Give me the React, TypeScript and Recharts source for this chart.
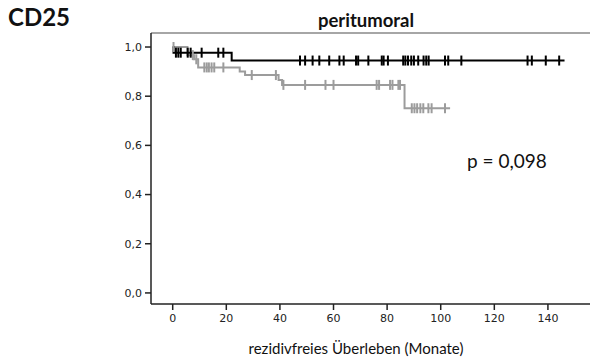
import React from 'react'
import {
  ComposedChart,
  Line,
  Scatter,
  XAxis,
  YAxis,
  ReferenceLine,
} from 'recharts'

// Kaplan-Meier steps (time in months, cumulative survival)
const blackTimes = [0, 0.3, 22, 146.2]
const blackSurv = [1.0, 0.977, 0.945, 0.945]
const blackCensored = [
  1.2, 2.1, 3.0, 5.6, 6.7, 10.8, 17, 18.9, 47.5, 49.4, 52.2, 54.7, 58.4, 62.2, 63.8,
  68.4, 69.2, 73, 78, 78.7, 80.3, 86, 86.8, 87.8, 89, 90, 91.6, 93.6, 94.6, 95.5,
  101.6, 102.8, 107.7, 132.4, 134, 139.2, 144.2,
]

const grayTimes = [0, 5.5, 8.0, 9.5, 25, 27, 39.5, 40.8, 86.5, 103.5]
const graySurv = [1.0, 0.967, 0.95, 0.917, 0.9, 0.886, 0.866, 0.846, 0.751, 0.751]
const grayCensored = [
  0.3, 7.5, 8.8, 11.8, 12.7, 13.5, 14.5, 15.5, 18.9, 29.5, 38.5, 41.3, 49.4, 57, 60,
  76.1, 77, 81.1, 82, 84.2, 84.8, 89.2, 90.2, 91.2, 92.4, 93.5, 95.4, 96.6, 101.6,
]

const xTicks = [0, 20, 40, 60, 80, 100, 120, 140]
const yTicks = [0, 0.2, 0.4, 0.6, 0.8, 1.0]

const X_MIN = -8.1
const X_MAX = 155.7
const Y_MIN = -0.045
const Y_MAX = 1.057

const BLACK = '#000000'
const GRAY = '#9c9c9c'
const AXIS = '#222222'

const toLine = (times: number[], surv: number[]) =>
  times.map((t, i) => ({ t, s: surv[i] }))

const survAt = (times: number[], surv: number[], t: number) => {
  let s = surv[0]
  for (let i = 0; i < times.length; i++) if (times[i] <= t) s = surv[i]
  return s
}

const toCensor = (times: number[], surv: number[], cens: number[]) =>
  cens.map((t) => ({ t, s: survAt(times, surv, t) }))

const censorShape = (color: string) => (props: any) => {
  const { cx, cy } = props
  if (cx == null || cy == null) return <g />
  return <line x1={cx} x2={cx} y1={cy - 5} y2={cy + 5} stroke={color} strokeWidth={2} />
}

const fmt = (v: number) => v.toFixed(1).replace('.', ',')

export default function App() {
  const blackLine = toLine(blackTimes, blackSurv)
  const grayLine = toLine(grayTimes, graySurv)
  const blackMarks = toCensor(blackTimes, blackSurv, blackCensored)
  const grayMarks = toCensor(grayTimes, graySurv, grayCensored)
  const tickStyle = { fontSize: 11, fill: AXIS, fontFamily: 'DejaVu Sans' }

  return (
    <div style={{ position: 'absolute', left: 0, top: 0, width: 590, height: 360, background: '#fff', overflow: 'hidden' }}>
      <div style={{ position: 'absolute', left: 8, top: 2, fontFamily: 'Lato', fontWeight: 700, fontSize: 24, lineHeight: '30px', color: '#111' }}>
        CD25
      </div>
      <div style={{ position: 'absolute', left: 151, width: 430, top: 8, textAlign: 'center', fontFamily: 'Lato', fontWeight: 700, fontSize: 18.5, lineHeight: '24px', color: '#111' }}>
        peritumoral
      </div>
      <ComposedChart width={590} height={360} margin={{ top: 33, right: 0, bottom: 26, left: 111 }}>
        <XAxis
          type="number"
          dataKey="t"
          domain={[X_MIN, X_MAX]}
          ticks={xTicks}
          allowDataOverflow
          height={30}
          tickSize={6}
          tickMargin={4}
          stroke={AXIS}
          strokeWidth={1.5}
          tick={tickStyle}
        />
        <YAxis
          type="number"
          domain={[Y_MIN, Y_MAX]}
          ticks={yTicks}
          allowDataOverflow
          width={40}
          tickSize={6}
          tickMargin={3}
          stroke={AXIS}
          strokeWidth={1.5}
          tick={tickStyle}
          tickFormatter={fmt}
        />
        <ReferenceLine y={Y_MAX} stroke="#888" strokeWidth={1.5} />
        <Line data={grayLine} dataKey="s" type="stepAfter" stroke={GRAY} strokeWidth={2} dot={false} isAnimationActive={false} />
        <Scatter data={grayMarks} dataKey="s" shape={censorShape(GRAY)} isAnimationActive={false} />
        <Line data={blackLine} dataKey="s" type="stepAfter" stroke={BLACK} strokeWidth={2} dot={false} isAnimationActive={false} />
        <Scatter data={blackMarks} dataKey="s" shape={censorShape(BLACK)} isAnimationActive={false} />
      </ComposedChart>
      <div style={{ position: 'absolute', left: 467, top: 149, fontFamily: 'Lato', fontSize: 19, lineHeight: '24px', color: '#111' }}>
        p = 0,098
      </div>
      <div style={{ position: 'absolute', left: 151, width: 410, top: 338, textAlign: 'center', fontFamily: 'Lato', fontSize: 15, lineHeight: '20px', color: '#111' }}>
        rezidivfreies Überleben (Monate)
      </div>
    </div>
  )
}
